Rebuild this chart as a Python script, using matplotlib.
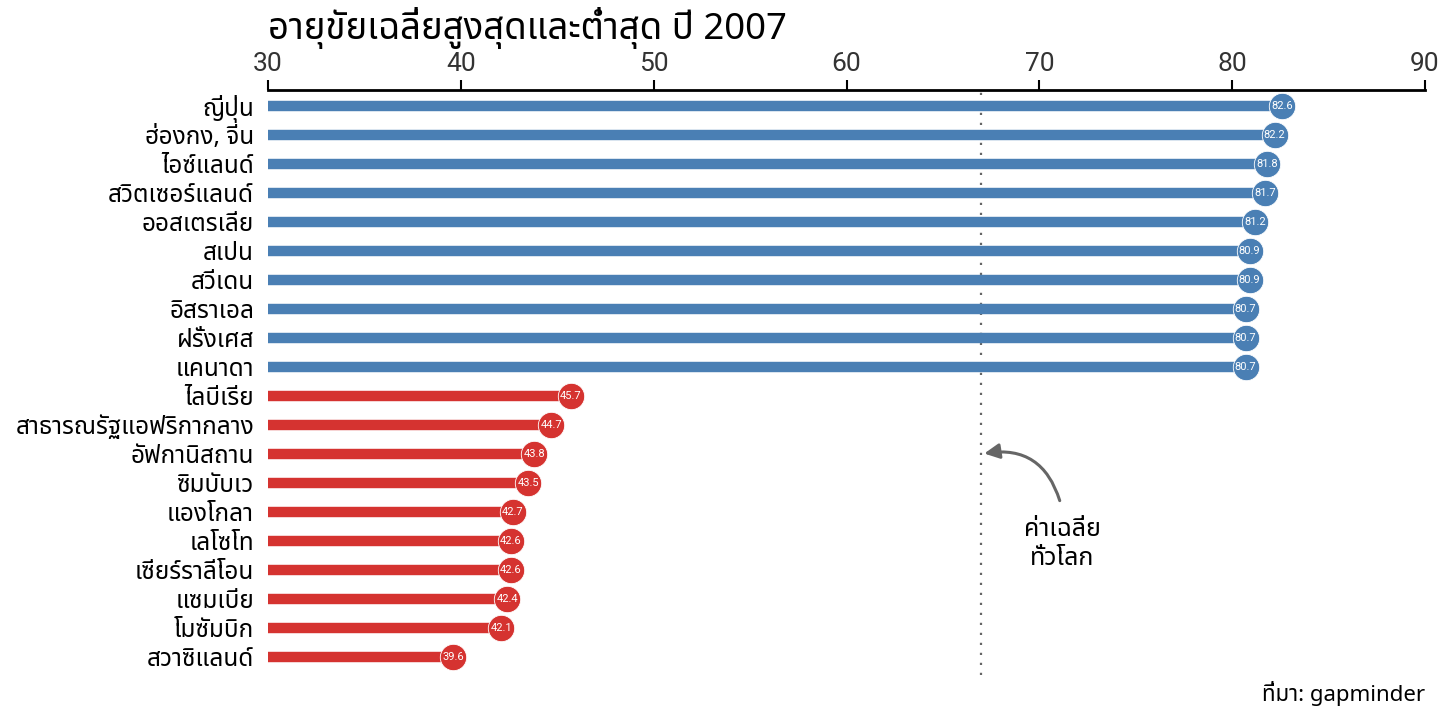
import matplotlib
matplotlib.use("Agg")
import matplotlib.pyplot as plt
from matplotlib import font_manager as fm
from matplotlib.ft2font import FT2Font

# ข้อมูล gapminder ปี 2007
countries = ["ญี่ปุ่น", "ฮ่องกง, จีน", "ไอซ์แลนด์", "สวิตเซอร์แลนด์", "ออสเตรเลีย",
             "สเปน", "สวีเดน", "อิสราเอล", "ฝรั่งเศส", "แคนาดา",
             "ไลบีเรีย", "สาธารณรัฐแอฟริกากลาง", "อัฟกานิสถาน", "ซิมบับเว", "แองโกลา",
             "เลโซโท", "เซียร์ราลีโอน", "แซมเบีย", "โมซัมบิก", "สวาซิแลนด์"]
life_exp = [82.6, 82.2, 81.8, 81.7, 81.2, 80.9, 80.9, 80.7, 80.7, 80.7,
            45.7, 44.7, 43.8, 43.5, 42.7, 42.6, 42.6, 42.4, 42.1, 39.6]
group = ["top"] * 10 + ["bottom"] * 10
world_mean = 67.0
x_ticks = [30, 40, 50, 60, 70, 80, 90]

colors = {"top": "#4a7fb4", "bottom": "#d53330"}


def find_thai_font():
    found = []
    for fe in fm.fontManager.ttflist:
        try:
            if 0x0E01 in FT2Font(fe.fname).get_charmap():
                found.append(fe.name)
        except Exception:
            pass
    prefer = ["Noto Sans Thai", "Noto Sans Thai UI", "Sarabun", "Loma", "Garuda",
              "Norasi", "Kinnari", "Waree", "Umpush", "Laksaman"]
    for p in prefer:
        if p in found:
            return p
    return found[0] if found else None


thai = find_thai_font()
fams = ([thai] if thai else []) + ["DejaVu Sans"]
plt.rcParams["font.family"] = fams
num_font = ["Liberation Sans Narrow", "Roboto", "DejaVu Sans"]

fig = plt.figure(figsize=(14.4, 7.2), dpi=100)
ax = fig.add_axes([268 / 1440, 1 - 675 / 720, (1425 - 268) / 1440, 585 / 720])

ypos = list(range(len(countries)))
for y, v, g in zip(ypos, life_exp, group):
    c = colors[g]
    ax.plot([30, v], [y, y], color=c, lw=7.5, solid_capstyle="butt", zorder=2)
    ax.plot(v, y, "o", ms=19, color=c, mec="white", mew=0.6, zorder=3)
    ax.text(v, y, f"{v:.1f}", color="white", ha="center", va="center",
            fontsize=8, family=num_font, zorder=4)

ax.axvline(world_mean, color="#666666", ls=(0, (1, 3.5)), lw=1.6, zorder=1)

ax.set_xlim(30, 90)
ax.set_ylim(19.62, -0.55)
ax.set_yticks(ypos)
ax.set_yticklabels(countries, fontsize=17.5, fontweight="medium")
ax.set_xticks(x_ticks)
ax.xaxis.tick_top()
for lab in ax.get_xticklabels():
    lab.set_family(num_font)
    lab.set_fontsize(19)
    lab.set_color("#333333")
ax.tick_params(axis="x", direction="out", length=7, width=1.5, pad=3)
ax.tick_params(axis="y", length=0, pad=10)
for s in ["bottom", "left", "right"]:
    ax.spines[s].set_visible(False)
ax.spines["top"].set_linewidth(2)

ax.annotate("", xy=(world_mean, 12.0), xytext=(71.1, 13.7),
            arrowprops=dict(arrowstyle="-|>,head_length=0.9,head_width=0.45",
                            color="#666666", lw=2.2,
                            connectionstyle="arc3,rad=0.45"))
ax.text(71.2, 15.1, "ค่าเฉลี่ย\nทั่วโลก", ha="center", va="center",
        fontsize=18, linespacing=1.2, fontweight="medium")

fig.text(268 / 1440, 1 - 28 / 720, "อายุขัยเฉลี่ยสูงสุดและต่ำสุด ปี 2007",
         fontsize=26.3, ha="left", va="center", fontweight="medium")
fig.text(1425 / 1440, 1 - 694 / 720, "ที่มา: gapminder", fontsize=16,
         ha="right", va="center", fontweight="medium")

fig.savefig("out.png", dpi=100)
